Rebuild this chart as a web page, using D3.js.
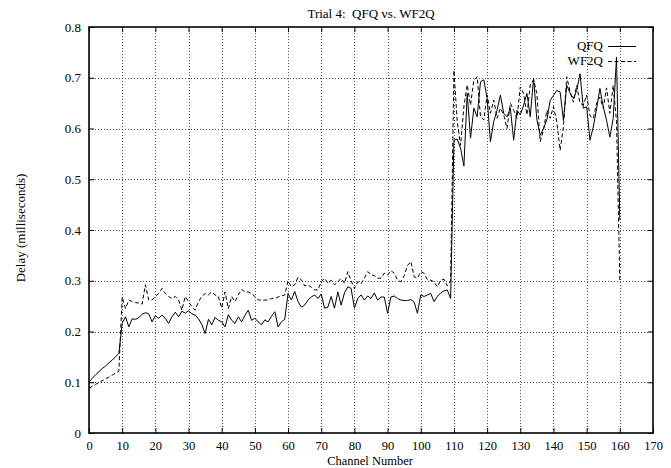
<!DOCTYPE html>
<html>
<head>
<meta charset="utf-8">
<script src="https://cdn.jsdelivr.net/npm/d3@7"></script>
<style>
  html, body { margin: 0; padding: 0; background: #fff; }
  svg { display: block; font-family: "Liberation Serif", "Times New Roman", serif; }
</style>
</head>
<body>
<svg id="chart" width="671" height="468"></svg>
<script>
// Channel numbers 0..160
const channels = d3.range(0, 161);

// Mean delay per channel (milliseconds)
const qfq = [
  0.100, 0.108, 0.115, 0.121, 0.127, 0.132, 0.138, 0.144, 0.150, 0.157,
  0.216, 0.229, 0.209, 0.225, 0.224, 0.227, 0.234, 0.237, 0.235, 0.219,
  0.231, 0.226, 0.232, 0.226, 0.216, 0.229, 0.238, 0.229, 0.240, 0.236,
  0.241, 0.235, 0.232, 0.225, 0.214, 0.196, 0.224, 0.213, 0.228, 0.222,
  0.219, 0.209, 0.233, 0.222, 0.216, 0.229, 0.219, 0.232, 0.242, 0.222,
  0.226, 0.219, 0.213, 0.223, 0.219, 0.230, 0.239, 0.209, 0.219, 0.224,
  0.275, 0.262, 0.279, 0.259, 0.248, 0.252, 0.262, 0.268, 0.272, 0.265,
  0.274, 0.246, 0.248, 0.269, 0.246, 0.278, 0.252, 0.276, 0.288, 0.285,
  0.246, 0.265, 0.272, 0.262, 0.270, 0.265, 0.276, 0.262, 0.268, 0.268,
  0.236, 0.268, 0.270, 0.265, 0.262, 0.261, 0.261, 0.263, 0.258, 0.236,
  0.272, 0.269, 0.272, 0.275, 0.259, 0.269, 0.276, 0.280, 0.282, 0.265,
  0.577, 0.579, 0.561, 0.526, 0.669, 0.581, 0.640, 0.623, 0.692, 0.696,
  0.660, 0.574, 0.614, 0.636, 0.666, 0.630, 0.623, 0.640, 0.577, 0.636,
  0.627, 0.646, 0.669, 0.623, 0.699, 0.617, 0.587, 0.600, 0.617, 0.655,
  0.665, 0.675, 0.672, 0.616, 0.685, 0.670, 0.659, 0.675, 0.708, 0.640,
  0.643, 0.577, 0.603, 0.639, 0.679, 0.643, 0.616, 0.583, 0.620, 0.741,
  0.420
];

const wf2q = [
  0.088, 0.092, 0.096, 0.099, 0.103, 0.107, 0.110, 0.114, 0.118, 0.122,
  0.268, 0.245, 0.262, 0.259, 0.257, 0.256, 0.254, 0.292, 0.262, 0.262,
  0.269, 0.275, 0.285, 0.275, 0.269, 0.265, 0.269, 0.262, 0.242, 0.269,
  0.259, 0.249, 0.242, 0.259, 0.269, 0.275, 0.272, 0.278, 0.272, 0.269,
  0.246, 0.278, 0.245, 0.269, 0.259, 0.272, 0.283, 0.278, 0.278, 0.275,
  0.269, 0.262, 0.262, 0.262, 0.262, 0.265, 0.265, 0.268, 0.270, 0.272,
  0.300, 0.288, 0.292, 0.307, 0.302, 0.290, 0.292, 0.287, 0.282, 0.282,
  0.298, 0.305, 0.295, 0.301, 0.292, 0.298, 0.305, 0.295, 0.318, 0.300,
  0.285, 0.298, 0.294, 0.305, 0.318, 0.312, 0.310, 0.305, 0.305, 0.315,
  0.311, 0.320, 0.315, 0.301, 0.298, 0.310, 0.330, 0.338, 0.308, 0.305,
  0.318, 0.315, 0.302, 0.301, 0.298, 0.288, 0.301, 0.303, 0.290, 0.300,
  0.715, 0.613, 0.567, 0.643, 0.686, 0.646, 0.696, 0.702, 0.623, 0.617,
  0.666, 0.630, 0.656, 0.620, 0.640, 0.627, 0.600, 0.650, 0.636, 0.620,
  0.682, 0.669, 0.627, 0.686, 0.696, 0.669, 0.574, 0.597, 0.636, 0.620,
  0.643, 0.613, 0.557, 0.603, 0.702, 0.672, 0.652, 0.685, 0.650, 0.646,
  0.666, 0.625, 0.620, 0.650, 0.662, 0.640, 0.680, 0.630, 0.685, 0.615,
  0.300
];

const xTicks = d3.range(0, 171, 10);
const yTicks = [0, 0.1, 0.2, 0.3, 0.4, 0.5, 0.6, 0.7, 0.8];
const yTickLabels = ["0", "0.1", "0.2", "0.3", "0.4", "0.5", "0.6", "0.7", "0.8"];

const series = [
  { name: "QFQ", values: qfq, dash: null },
  { name: "WF2Q", values: wf2q, dash: "4,2.5" }
];

const plot = { left: 89, right: 653, top: 27, bottom: 433 };

const svg = d3.select("#chart");
const x = d3.scaleLinear().domain([0, 170]).range([plot.left, plot.right]);
const y = d3.scaleLinear().domain([0, 0.8]).range([plot.bottom, plot.top]);

// Dotted grid
const grid = svg.append("g").attr("stroke", "#222").attr("stroke-width", 0.8)
  .attr("stroke-dasharray", "1,2");
grid.selectAll("line.gx").data(xTicks.filter(d => d > 0 && d < 170)).join("line")
  .attr("class", "gx")
  .attr("x1", d => Math.round(x(d)) + 0.5).attr("x2", d => Math.round(x(d)) + 0.5)
  .attr("y1", plot.top).attr("y2", plot.bottom);
grid.selectAll("line.gy").data(yTicks.filter(d => d > 0 && d < 0.8)).join("line")
  .attr("class", "gy")
  .attr("y1", d => Math.round(y(d)) + 0.5).attr("y2", d => Math.round(y(d)) + 0.5)
  .attr("x1", plot.left).attr("x2", plot.right);

// Axes with inward ticks on all four sides
const axisStyle = g => {
  g.select(".domain").remove();
  g.selectAll(".tick line").attr("stroke", "#000").attr("stroke-width", 1);
  g.selectAll(".tick text").attr("fill", "#000")
    .style("font-family", "'Liberation Serif', 'Times New Roman', serif")
    .style("font-size", "13px");
};

svg.append("g").attr("transform", `translate(0,${plot.bottom})`)
  .call(d3.axisBottom(x).tickValues(xTicks).tickSize(-5).tickPadding(8).tickFormat(d3.format("d")))
  .call(axisStyle)
  .call(g => g.selectAll(".tick text").style("font-size", "12.5px"));
svg.append("g").attr("transform", `translate(0,${plot.top})`)
  .call(d3.axisTop(x).tickValues(xTicks).tickSize(-5).tickFormat(""))
  .call(axisStyle);
svg.append("g").attr("transform", `translate(${plot.left},0)`)
  .call(d3.axisLeft(y).tickValues(yTicks).tickSize(-5).tickPadding(8)
    .tickFormat((d, i) => yTickLabels[i]))
  .call(axisStyle);
svg.append("g").attr("transform", `translate(${plot.right},0)`)
  .call(d3.axisRight(y).tickValues(yTicks).tickSize(-5).tickFormat(""))
  .call(axisStyle);

// Frame
svg.append("rect")
  .attr("x", plot.left).attr("y", plot.top)
  .attr("width", plot.right - plot.left).attr("height", plot.bottom - plot.top)
  .attr("fill", "none").attr("stroke", "#000").attr("stroke-width", 1.6);

// Series lines
const line = d3.line().x((d, i) => x(channels[i])).y(d => y(d));
svg.append("g").selectAll("path").data(series).join("path")
  .attr("d", d => line(d.values))
  .attr("fill", "none").attr("stroke", "#000").attr("stroke-width", 1)
  .attr("stroke-dasharray", d => d.dash);

// Legend
const legend = svg.append("g").selectAll("g").data(series).join("g")
  .attr("transform", (d, i) => `translate(0,${46.5 + i * 15})`);
legend.append("text")
  .attr("x", 603).attr("y", 3).attr("text-anchor", "end")
  .attr("font-size", 13).text(d => d.name);
legend.append("line")
  .attr("x1", 608).attr("x2", 636).attr("y1", 0).attr("y2", 0)
  .attr("stroke", "#000").attr("stroke-width", 1)
  .attr("stroke-dasharray", d => d.dash);

// Titles
svg.append("text").attr("x", 371).attr("y", 18).attr("text-anchor", "middle")
  .attr("font-size", 13).attr("xml:space", "preserve").style("white-space", "pre")
  .text("Trial 4:  QFQ vs. WF2Q");
svg.append("text").attr("x", 370).attr("y", 465).attr("text-anchor", "middle")
  .attr("font-size", 12.5).text("Channel Number");
svg.append("text").attr("transform", "translate(25,228) rotate(-90)")
  .attr("text-anchor", "middle").attr("font-size", 13).text("Delay (milliseconds)");
</script>
</body>
</html>
